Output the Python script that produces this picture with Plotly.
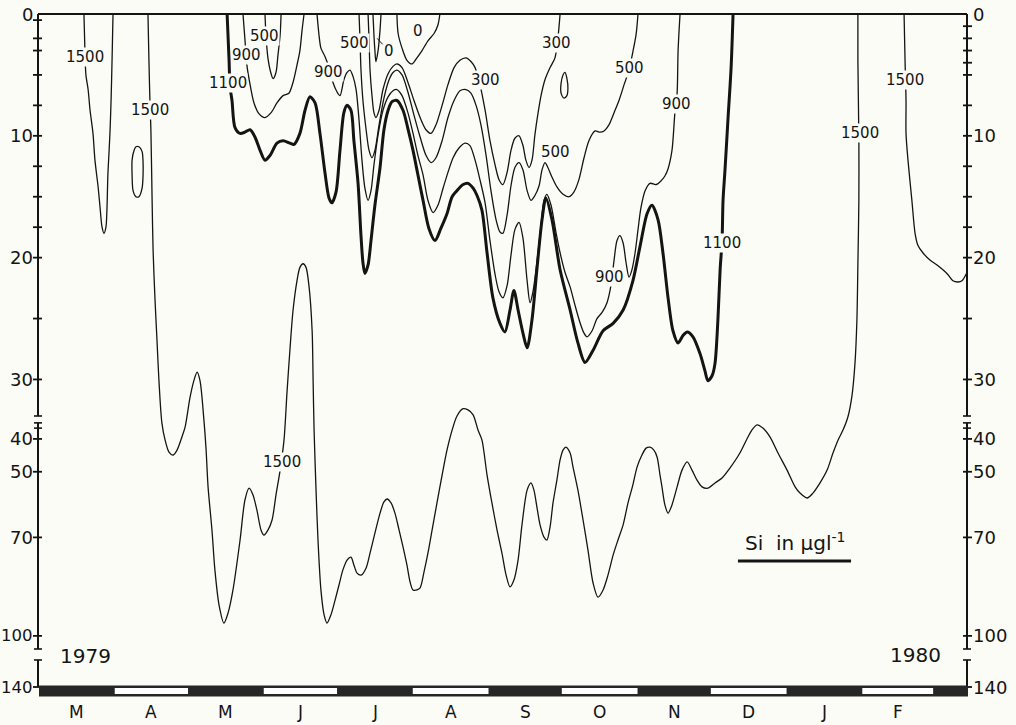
import numpy as np
import pandas as pd
import plotly.graph_objects as go

BG = "#fcfcf7"
INK = "#141414"
FONT = "DejaVu Sans"

# ------------------------------------------------------------------ data
# Si isopleths (µg/l). Each point: (days after 1 March 1979, depth in m)
SI_1500_A = [(18.4, 0), (18.8, 3.0), (19.2, 5.0), (20.1, 6.2), (20.9, 7.9), (22.1, 9.8),
             (22.9, 12.0), (24.2, 14.2), (25.0, 15.9), (25.8, 17.5), (26.6, 18.0), (27.4, 17.5),
             (27.8, 16.1), (28.2, 13.2), (28.7, 11.2), (29.1, 9.5), (29.5, 7.1), (29.9, 3.8), (30.3, 0)]

SI_1500_B = [(40.9, 10.9), (42.2, 11.3), (42.6, 12.2), (42.6, 13.2), (42.2, 14.3), (40.9, 15.0),
             (39.7, 15.0), (38.5, 14.5), (38.1, 13.2), (38.1, 12.0), (38.9, 11.2), (39.7, 10.9),
             (40.9, 10.9)]

SI_1500_C = [
    (44.6, 0), (45.0, 3.8), (45.4, 7.1), (45.8, 9.5), (46.3, 15.3), (46.7, 19.4), (47.5, 23.5),
    (48.3, 26.8), (49.1, 30.1), (50.3, 35.1), (51.6, 40.3), (53.2, 44.0), (54.9, 44.9),
    (56.5, 43.4), (58.5, 39.4), (59.8, 36.4), (61.8, 31.5), (63.4, 30.1), (64.7, 29.4),
    (65.9, 30.1), (67.5, 34.2), (68.4, 43.4), (69.2, 54.6), (70.8, 67.8), (72.0, 79.9),
    (73.7, 90.6), (75.7, 96.1), (77.4, 93.0), (79.4, 86.0), (82.3, 70.8), (84.3, 58.6),
    (86.0, 55.0), (87.6, 57.1), (89.2, 61.7), (90.9, 67.8), (92.1, 69.3), (93.7, 67.8),
    (95.4, 64.7), (97.0, 57.1), (98.7, 49.5), (100.3, 40.3), (101.5, 31.1), (102.7, 27.6),
    (104.0, 24.3), (105.6, 21.9), (106.8, 20.8), (108.1, 20.5), (109.3, 20.8), (110.5, 22.3),
    (111.8, 26.0), (112.2, 30.1), (112.6, 37.3), (113.4, 55.6), (114.2, 70.8), (115.4, 86.0),
    (116.7, 93.6), (117.9, 96.1), (119.5, 93.6), (121.2, 89.1), (122.8, 84.5), (124.4, 79.9),
    (126.1, 76.9), (127.7, 76.0), (128.9, 78.4), (130.2, 80.9), (131.8, 81.5), (133.9, 79.3),
    (135.5, 74.8), (137.5, 68.7), (139.6, 62.6), (141.2, 59.2), (142.5, 58.3), (144.1, 59.5),
    (145.7, 62.6), (147.4, 67.8), (149.0, 72.9), (150.6, 78.4), (151.9, 83.6), (153.1, 86.0),
    (154.7, 86.0), (156.0, 85.4), (157.6, 80.5), (159.2, 74.8), (160.9, 67.8), (162.9, 59.5),
    (165.0, 51.0), (167.0, 43.4), (169.1, 37.3), (171.1, 33.0), (173.6, 32.4), (175.6, 32.5),
    (177.7, 32.9), (179.7, 37.3), (181.3, 40.3), (183.4, 51.0), (185.4, 59.5), (187.5, 67.8),
    (189.5, 74.8), (191.2, 81.5), (192.8, 85.1), (194.4, 83.0), (196.1, 76.9), (197.7, 66.2),
    (199.8, 55.6), (201.4, 53.4), (202.6, 55.6), (203.8, 60.7), (205.1, 66.2), (206.7, 69.9),
    (207.9, 70.8), (209.2, 66.8), (210.4, 59.5), (212.0, 52.5), (213.3, 46.4), (214.5, 43.4),
    (215.7, 42.5), (217.4, 44.3), (218.6, 48.6), (220.6, 55.6), (222.7, 64.7), (224.7, 73.8),
    (226.8, 83.9), (228.8, 88.2), (230.9, 86.0), (232.9, 81.5), (235.0, 75.4), (237.0, 70.8),
    (239.1, 66.2), (241.1, 59.5), (243.1, 54.0), (244.8, 48.6), (246.8, 44.9), (248.5, 42.8),
    (250.1, 42.5), (251.7, 43.4), (253.0, 45.5), (254.2, 51.0), (255.0, 54.6), (256.2, 60.1),
    (257.5, 62.6), (259.1, 60.1), (261.2, 54.6), (263.2, 49.5), (265.3, 47.0), (267.3, 49.5),
    (269.3, 52.5), (271.4, 54.6), (273.8, 55.0), (276.7, 53.4), (279.6, 51.9), (282.8, 48.9),
    (286.9, 44.3), (290.2, 39.4), (291.8, 37.3), (293.9, 35.7), (296.3, 36.7), (299.2, 39.4),
    (302.5, 44.3), (306.2, 49.5), (309.5, 54.6), (311.5, 56.5), (314.4, 58.0), (316.8, 56.5),
    (319.7, 53.4), (322.6, 49.5), (325.0, 44.3), (327.1, 40.3), (329.1, 37.3), (331.1, 33.3),
    (332.8, 31.3), (334.0, 28.7), (334.8, 25.1), (335.2, 20.5), (335.6, 15.3), (335.6, 10.4),
    (335.2, 3.8), (335.2, 0)]

SI_1500_D = [(354.1, 0), (354.5, 3.8), (354.9, 7.1), (354.9, 9.8), (355.7, 12.0), (357.3, 15.3),
             (358.6, 18.0), (359.8, 19.0), (361.8, 19.6), (364.7, 20.2), (367.6, 20.6),
             (370.0, 21.0), (372.1, 21.4), (374.1, 21.9), (376.2, 22.0), (377.8, 21.9),
             (379.9, 21.2)]

SI_1100 = [
    (77.0, 0), (77.8, 3.8), (78.2, 6.0), (79.0, 7.1), (80.2, 9.3), (82.3, 9.8), (84.3, 9.7),
    (86.4, 9.5), (88.4, 10.1), (90.5, 11.2), (92.5, 12.0), (94.6, 11.6), (97.4, 10.6),
    (99.9, 10.4), (102.7, 10.6), (104.4, 10.7), (106.8, 9.8), (108.9, 7.9), (110.9, 6.8),
    (113.0, 7.3), (115.0, 9.8), (117.1, 13.1), (118.7, 15.1), (119.9, 15.5), (121.6, 14.6),
    (123.2, 11.2), (124.8, 8.1), (126.1, 7.5), (127.7, 7.9), (128.9, 10.4), (130.6, 13.9),
    (131.8, 18.2), (132.6, 20.4), (133.4, 21.3), (134.7, 20.6), (135.9, 18.6), (137.5, 15.7),
    (139.6, 12.6), (141.2, 9.5), (142.9, 7.9), (144.5, 7.2), (146.5, 7.1), (149.0, 7.9),
    (151.0, 9.4), (153.1, 11.2), (155.1, 13.2), (157.2, 15.3), (159.6, 17.6), (162.1, 18.6),
    (164.5, 17.6), (167.0, 16.4), (169.1, 15.0), (171.1, 14.5), (173.6, 14.0), (175.6, 13.9),
    (177.7, 14.3), (179.3, 14.9), (181.3, 16.1), (183.4, 19.6), (185.8, 23.3), (188.7, 25.4),
    (190.7, 26.1), (192.8, 24.3), (194.4, 22.7), (196.1, 24.3), (198.1, 26.2), (199.8, 27.4),
    (201.8, 25.1), (203.8, 21.0), (205.9, 16.9), (207.5, 15.1), (210.0, 16.9), (213.3, 21.0),
    (217.4, 24.3), (220.6, 27.0), (223.5, 28.6), (226.8, 27.6), (230.9, 26.0), (235.0, 25.4),
    (239.1, 24.3), (243.1, 21.9), (246.0, 19.1), (248.9, 16.4), (250.9, 15.7), (253.4, 16.9),
    (255.4, 19.6), (257.5, 23.3), (259.5, 26.0), (261.6, 27.0), (263.6, 26.4), (265.3, 26.1),
    (267.7, 26.5), (270.6, 27.9), (272.6, 29.3), (273.8, 30.1), (275.5, 29.7), (276.7, 28.7),
    (277.9, 25.1), (278.8, 21.0), (279.6, 18.6), (280.0, 15.3), (280.8, 12.8), (282.0, 8.7),
    (283.3, 4.4), (284.1, 0)]

SI_900_A = [(83.5, 0), (84.3, 2.1), (85.1, 4.2), (86.4, 5.8), (88.0, 7.3), (90.1, 8.2), (92.5, 8.5),
            (95.0, 8.1), (97.4, 7.3), (99.9, 6.7), (102.3, 6.5), (104.0, 5.6), (105.6, 4.2),
            (106.8, 3.0), (107.7, 1.3), (108.5, 0)]

SI_900_B = [
    (113.8, 0), (114.6, 1.7), (115.4, 2.8), (117.1, 3.5), (118.7, 4.4), (120.3, 5.6), (122.0, 6.4),
    (123.2, 6.7), (124.8, 5.4), (126.1, 4.8), (127.3, 4.6), (128.5, 5.1), (129.8, 6.2), (131.0, 8.7),
    (132.2, 12.0), (133.4, 14.3), (134.7, 15.3), (135.9, 14.5), (137.1, 12.4), (138.8, 9.9),
    (140.8, 7.9), (142.9, 6.8), (144.9, 6.3), (146.5, 6.2), (148.6, 6.7), (151.0, 8.1), (153.1, 9.8),
    (155.1, 11.6), (157.2, 13.2), (159.2, 15.3), (161.3, 16.3), (163.3, 15.7), (165.4, 14.3),
    (167.4, 13.0), (169.5, 11.8), (171.9, 11.0), (174.4, 10.6), (176.4, 10.8), (178.5, 12.0),
    (180.5, 13.6), (182.6, 15.5), (184.6, 18.6), (186.7, 21.4), (188.3, 22.8), (189.9, 23.3),
    (191.6, 22.3), (193.2, 19.8), (194.8, 17.7), (196.5, 17.1), (198.1, 18.4), (199.8, 21.9),
    (201.0, 23.7), (202.2, 22.8), (203.8, 20.4), (205.5, 17.3), (206.7, 15.3), (207.9, 14.8),
    (209.6, 15.7), (211.6, 17.9), (213.3, 19.6), (215.3, 21.2), (217.4, 22.4), (219.4, 23.9),
    (221.4, 25.3), (223.1, 26.2), (224.3, 26.5), (226.4, 26.0), (228.4, 25.0), (230.5, 24.5),
    (232.5, 23.7), (234.1, 22.3), (235.4, 20.2), (236.6, 18.6), (237.8, 18.2), (239.1, 18.8),
    (240.3, 20.4), (241.5, 21.6), (242.7, 21.0), (244.0, 19.6), (245.2, 17.7), (246.4, 15.9),
    (248.1, 14.5), (250.1, 13.9), (252.6, 14.0), (254.6, 13.7), (256.2, 13.3), (257.5, 12.7),
    (259.1, 11.2), (260.3, 8.1), (261.2, 6.5), (261.6, 3.0), (262.4, 0)]

SI_500_A = [(92.5, 0), (92.9, 1.7), (93.7, 3.6), (95.0, 4.9), (95.8, 5.3), (97.0, 4.8), (97.8, 3.4),
            (98.7, 1.7), (99.1, 0)]

SI_500_B = [
    (131.0, 0), (131.4, 2.1), (131.8, 4.6), (132.6, 7.1), (133.9, 9.5), (135.1, 11.2), (136.3, 11.8),
    (137.5, 11.2), (139.2, 9.1), (141.2, 6.9), (143.3, 5.4), (144.9, 4.8), (146.5, 4.6), (148.6, 5.0),
    (151.0, 6.4), (153.5, 8.3), (156.0, 10.1), (158.4, 11.6), (160.5, 12.2), (162.5, 11.8),
    (165.0, 10.4), (167.4, 8.5), (169.9, 7.1), (172.3, 6.3), (174.8, 6.2), (176.8, 6.5), (178.9, 7.5),
    (180.9, 9.1), (183.0, 11.6), (185.0, 14.5), (187.1, 16.9), (188.7, 17.9), (189.9, 18.0),
    (191.6, 16.5), (193.2, 14.1), (194.8, 12.6), (196.5, 12.2), (198.1, 12.8), (199.8, 14.5),
    (201.4, 15.3), (203.0, 14.9), (204.7, 14.1), (205.9, 12.8), (207.1, 12.2), (208.3, 12.6),
    (210.0, 13.4), (212.0, 14.2), (214.5, 14.8), (216.9, 15.0), (219.0, 14.6), (221.0, 13.6),
    (223.1, 11.8), (225.1, 10.4), (227.6, 9.6), (229.6, 9.7), (231.3, 9.6), (233.3, 9.1),
    (235.4, 8.1), (237.4, 7.1), (239.5, 5.8), (241.5, 4.6), (243.1, 3.1), (244.4, 1.7), (245.2, 0)]

SI_300_A = [
    (134.7, 0), (135.1, 2.1), (135.5, 4.6), (136.3, 6.7), (137.1, 8.1), (137.9, 8.5), (139.2, 7.9),
    (140.8, 6.2), (142.9, 4.9), (144.9, 4.3), (146.5, 4.1), (148.6, 4.4), (151.0, 5.6), (153.5, 7.1),
    (156.0, 8.5), (158.4, 9.5), (160.5, 9.8), (162.5, 9.1), (165.0, 7.5), (167.4, 5.8), (169.9, 4.4),
    (172.3, 3.8), (174.8, 3.6), (176.8, 3.9), (178.5, 4.4), (180.5, 5.8), (182.6, 7.9), (184.6, 10.4),
    (186.7, 12.4), (188.3, 13.6), (189.9, 14.0), (191.6, 13.0), (193.2, 11.2), (194.8, 10.2),
    (196.5, 10.0), (198.1, 10.8), (199.3, 12.0), (200.6, 12.6), (201.8, 12.0), (203.0, 9.9),
    (204.3, 8.1), (205.5, 6.7), (207.1, 5.4), (209.2, 4.4), (211.2, 3.6), (212.4, 2.0), (213.3, 0)]

SI_300_B = [(215.3, 4.8), (216.1, 5.3), (216.5, 6.1), (216.1, 6.7), (214.9, 6.9), (213.7, 6.5),
            (213.7, 5.7), (214.5, 5.0), (215.3, 4.8)]

SI_0_A = [(136.7, 0), (137.1, 1.7), (137.5, 3.0), (137.9, 3.9), (138.8, 3.0), (139.6, 1.3), (140.0, 0)]

SI_0_B = [(146.5, 0), (147.0, 1.6), (148.6, 2.8), (150.6, 3.8), (152.7, 4.1), (154.7, 3.6),
          (156.8, 3.0), (159.2, 2.2), (161.7, 1.6), (163.3, 0.9), (164.1, 0)]

# isopleth value label: (text, day, depth)
ISO_LABELS = [("1500", 18.8, 3.5), ("1500", 45.4, 7.9), ("1500", 99.5, 47.0), ("1500", 336.0, 9.8),
              ("1500", 354.5, 5.4), ("1100", 77.4, 5.7), ("1100", 279.6, 18.8), ("900", 85.1, 3.4),
              ("900", 118.7, 4.8), ("900", 233.7, 21.6), ("900", 261.1, 7.4), ("500", 92.5, 1.8),
              ("500", 129.3, 2.4), ("500", 211.6, 11.3), ("500", 241.9, 4.4), ("300", 182.6, 5.4),
              ("300", 212.0, 2.4), ("0", 155.1, 1.4)]

MONTHS = ["M", "A", "M", "J", "J", "A", "S", "O", "N", "D", "J", "F"]
MONTH_DAYS = [31, 30, 31, 30, 31, 31, 30, 31, 30, 31, 31, 29]

DEPTH_LABELLED = [0, 10, 20, 30, 40, 50, 70, 100, 140]
DEPTH_MINOR_LEFT = [0.5, 2, 3, 5, 7.5, 12.5, 15, 17.5, 25]
DEPTH_MINOR_RIGHT = [1, 2, 3, 4, 5, 7.5, 12.5, 15, 17.5, 25]
AXIS_SEGMENTS = [(0, 33), (35.1, 104), (114.4, 140)]
AXIS_CAPS = [33, 35.1, 36.7, 104, 114.4]

# ------------------------------------------------------------------ scales
PLOT_W, PLOT_H = 930, 683
DEPTH_KNOTS = [0, 33, 38.5, 104, 140]      # broken depth axis
AXIS_KNOTS = [0, 402, 420, 635, 673]
AXIS_BOTTOM = 683

BASE = pd.Timestamp("1979-03-01")
DAY_MIN, DAY_MAX = -0.41, 380.27


def to_axis(depth):
    return np.interp(depth, DEPTH_KNOTS, AXIS_KNOTS)


def to_date(days):
    return BASE + pd.to_timedelta(np.asarray(days, dtype=float), unit="D")


def date_str(day):
    return (BASE + pd.Timedelta(days=float(day))).strftime("%Y-%m-%d %H:%M:%S")


def day_to_paper(day):
    return (day - DAY_MIN) / (DAY_MAX - DAY_MIN)


def depth_to_paper(depth):
    return 1 - float(to_axis(depth)) / AXIS_BOTTOM


fig = go.Figure()

contours = [(SI_1500_A, 1.3), (SI_1500_B, 1.3), (SI_1500_C, 1.3), (SI_1500_D, 1.3),
            (SI_1100, 3.0), (SI_900_A, 1.3), (SI_900_B, 1.3), (SI_500_A, 1.3), (SI_500_B, 1.3),
            (SI_300_A, 1.3), (SI_300_B, 1.3), (SI_0_A, 1.3), (SI_0_B, 1.3)]
for pts, w in contours:
    d, z = zip(*pts)
    fig.add_trace(go.Scatter(x=to_date(d), y=to_axis(z), mode="lines",
                             line=dict(color=INK, width=w, shape="spline", smoothing=0.8),
                             hoverinfo="skip", showlegend=False))

shapes = []


def line(x0, y0, x1, y1, w=2.0):
    shapes.append(dict(type="line", xref="paper", yref="paper", x0=x0, y0=y0, x1=x1, y1=y1,
                       line=dict(color=INK, width=w)))


RIGHT = 1 - 1 / PLOT_W
px = 1 / PLOT_W
# frame top
line(0, 1, RIGHT, 1)
for side, sgn in ((0, 1), (RIGHT, -1)):
    for a, b in AXIS_SEGMENTS:
        line(side, depth_to_paper(a), side, depth_to_paper(b))
    for c in AXIS_CAPS:
        line(side - 4 * px, depth_to_paper(c), side + 4 * px, depth_to_paper(c), 1.6)
    minors = DEPTH_MINOR_LEFT if sgn == 1 else DEPTH_MINOR_RIGHT
    for t in DEPTH_LABELLED[1:] + minors:
        y = depth_to_paper(t)
        line(side - 5 * px * sgn, y, side + 4 * px * sgn, y, 1.8)

# month bar
starts = np.concatenate([[0], np.cumsum(MONTH_DAYS)])
BAR_Y0, BAR_Y1 = 0.5 / PLOT_H, 11.5 / PLOT_H
shapes.append(dict(type="rect", xref="paper", yref="paper", x0=day_to_paper(0), x1=1,
                   y0=BAR_Y0, y1=BAR_Y1, fillcolor="#262626", line=dict(width=0)))
for i in range(1, 12, 2):
    shapes.append(dict(type="rect", xref="paper", yref="paper",
                       x0=day_to_paper(starts[i]), x1=day_to_paper(starts[i + 1]),
                       y0=BAR_Y0 + 2.5 / PLOT_H, y1=BAR_Y1 - 2.5 / PLOT_H,
                       fillcolor="white", line=dict(width=0)))

# unit caption underline
line(day_to_paper(286.1), 1 - 547 / PLOT_H, day_to_paper(332.4), 1 - 547 / PLOT_H, 3)

annotations = []
for txt, day, depth in ISO_LABELS:
    annotations.append(dict(text=txt, x=date_str(day), y=float(to_axis(depth)), xref="x", yref="y",
                            xanchor="center", yanchor="middle", showarrow=False,
                            font=dict(family=FONT, size=15, color=INK),
                            bgcolor=BG, borderpad=0))
# "0" with leader stroke
annotations.append(dict(text="0", x=date_str(138.4), y=float(to_axis(2.0)), xref="x", yref="y",
                        showarrow=True, arrowhead=0, arrowwidth=1, arrowcolor=INK, ax=12, ay=13,
                        standoff=0, font=dict(family=FONT, size=15, color=INK)))

for t in DEPTH_LABELLED:
    y = depth_to_paper(t)
    size = 18 if t < 100 else 16.5
    annotations.append(dict(text=str(t), x=-4 * px, y=y, xref="paper", yref="paper",
                            xanchor="right", yanchor="middle", showarrow=False, borderpad=0,
                            font=dict(family=FONT, size=size, color=INK)))
    annotations.append(dict(text=str(t), x=RIGHT + 5 * px, y=y, xref="paper", yref="paper",
                            xanchor="left", yanchor="middle", showarrow=False, borderpad=0,
                            font=dict(family=FONT, size=18, color=INK)))

for i, m in enumerate(MONTHS):
    annotations.append(dict(text=m, x=date_str(starts[i] + MONTH_DAYS[i] / 2), y=-15 / PLOT_H,
                            xref="x", yref="paper", xanchor="center", yanchor="middle",
                            showarrow=False, font=dict(family=FONT, size=17, color=INK)))

annotations.append(dict(text="1979", x=date_str(19.2), y=1 - 642 / PLOT_H, xref="x", yref="paper",
                        xanchor="center", yanchor="middle", showarrow=False,
                        font=dict(family=FONT, size=20, color=INK)))
annotations.append(dict(text="1980", x=date_str(358.6), y=1 - 641 / PLOT_H, xref="x", yref="paper",
                        xanchor="center", yanchor="middle", showarrow=False,
                        font=dict(family=FONT, size=20, color=INK)))
annotations.append(dict(text="Si\u00a0\u00a0in\u00a0µgl<sup>-1</sup>", x=date_str(309.5),
                        y=1 - 528 / PLOT_H, xref="x", yref="paper", xanchor="center",
                        yanchor="middle", showarrow=False,
                        font=dict(family=FONT, size=20, color=INK)))

fig.update_layout(
    width=1016, height=725,
    margin=dict(l=38, r=48, t=14, b=28, pad=0),
    paper_bgcolor=BG, plot_bgcolor=BG,
    xaxis=dict(type="date", range=[date_str(DAY_MIN), date_str(DAY_MAX)], showgrid=False,
               zeroline=False, showticklabels=False, ticks="", showline=False),
    yaxis=dict(range=[AXIS_BOTTOM, 0], showgrid=False, zeroline=False, showticklabels=False,
               ticks="", showline=False),
    shapes=shapes, annotations=annotations, showlegend=False,
)

fig.write_html("out.html")
